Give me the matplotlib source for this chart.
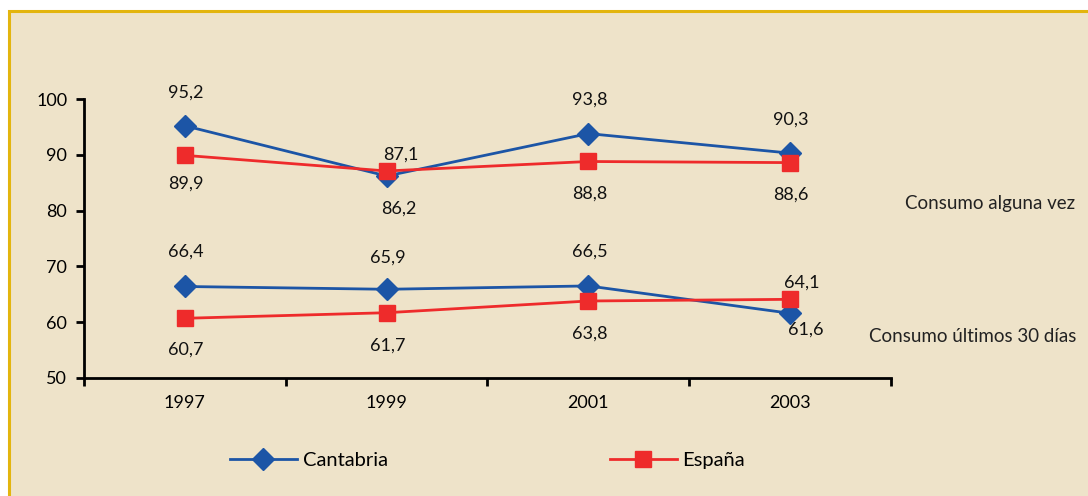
import matplotlib.pyplot as plt
from matplotlib.patches import Rectangle

# Datos
anios = ['1997', '1999', '2001', '2003']
cant_alguna = [95.2, 86.2, 93.8, 90.3]
esp_alguna = [89.9, 87.1, 88.8, 88.6]
cant_30 = [66.4, 65.9, 66.5, 61.6]
esp_30 = [60.7, 61.7, 63.8, 64.1]

azul = '#1C55A6'
rojo = '#EE2B2B'
fondo = '#EEE3C9'
dorado = '#E3B50E'

plt.rcParams['font.family'] = ['Lato', 'DejaVu Sans']

fig = plt.figure(figsize=(10.88, 4.96), dpi=100)
fig.patch.set_facecolor('white')
fig.patches.append(Rectangle((9 / 1088, -0.1), 1.2, (496 - 11) / 496 + 0.1,
                             transform=fig.transFigure, facecolor=fondo,
                             edgecolor=dorado, linewidth=2.2, zorder=-10))

ax = fig.add_axes([84 / 1088, (496 - 378) / 496, (891 - 84) / 1088, (378 - 99) / 496])
ax.set_facecolor('none')
ax.set_zorder(5)

x = range(len(anios))
ax.plot(x, cant_alguna, color=azul, lw=2, marker='D', ms=11, label='Cantabria')
ax.plot(x, esp_alguna, color=rojo, lw=2, marker='s', ms=11, label='España')
ax.plot(x, cant_30, color=azul, lw=2, marker='D', ms=11)
ax.plot(x, esp_30, color=rojo, lw=2, marker='s', ms=11)

def etiquetas(vals, desp):
    for i, v in enumerate(vals):
        dx, dy = desp[i]
        ax.annotate(f'{v:.1f}'.replace('.', ','), (i, v), xytext=(dx, dy),
                    textcoords='offset pixels', ha='center', va='center',
                    fontsize=13, color='#111111')

etiquetas(cant_alguna, [(1, 33), (12, -33), (1, 34), (1, 34)])
etiquetas(esp_alguna, [(1, -28), (14, 16), (1, -32), (1, -32)])
etiquetas(cant_30, [(1, 35), (1, 32), (1, 34), (16, -16)])
etiquetas(esp_30, [(1, -31), (1, -33), (1, -33), (12, 17)])

ax.set_xlim(-0.5, 3.5)
ax.set_ylim(50, 100)
ax.set_yticks(range(50, 101, 10))
ax.set_xticks([-0.5, 0.5, 1.5, 2.5, 3.5])
ax.set_xticklabels([])
ax.set_xticks(list(x), minor=True)
ax.set_xticklabels(anios, minor=True)
ax.tick_params(axis='x', which='minor', length=0, pad=12, labelsize=13)
ax.tick_params(axis='x', which='major', length=6, width=2, direction='out')
ax.tick_params(axis='y', length=6, width=2, direction='out', pad=6, labelsize=13)
for s in ['top', 'right']:
    ax.spines[s].set_visible(False)
for s in ['left', 'bottom']:
    ax.spines[s].set_linewidth(2)

fig.text(1075 / 1088, (496 - 203) / 496, 'Consumo alguna vez', ha='right', va='center',
         fontsize=13.5, color='#222222')
fig.text(1076 / 1088, (496 - 337) / 496, 'Consumo últimos 30 días', ha='right', va='center',
         fontsize=13.5, color='#222222')

h, l = ax.get_legend_handles_labels()
fig.legend([h[0]], [l[0]], loc='center left', bbox_to_anchor=(212 / 1088, (496 - 460) / 496),
           frameon=False, fontsize=14.5, handlelength=3.3, handletextpad=0.3)
fig.legend([h[1]], [l[1]], loc='center left', bbox_to_anchor=(592 / 1088, (496 - 460) / 496),
           frameon=False, fontsize=14.5, handlelength=3.3, handletextpad=0.3)

plt.savefig('out.png', dpi=100, facecolor=fig.get_facecolor())
